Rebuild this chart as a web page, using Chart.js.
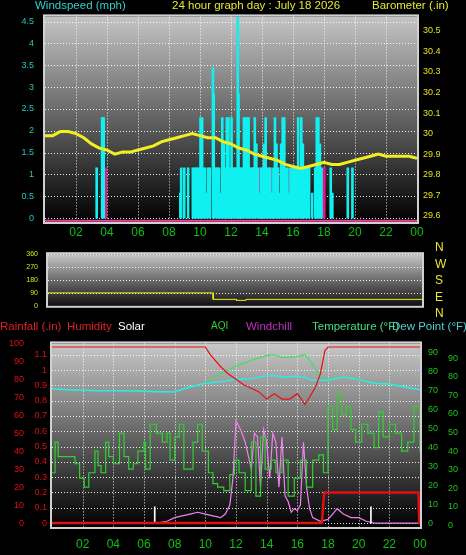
<!DOCTYPE html>
<html><head><meta charset="utf-8">
<script src="https://cdn.jsdelivr.net/npm/chart.js@4/dist/chart.umd.min.js"></script>
<style>
body{margin:0;background:#000;width:466px;height:555px;overflow:hidden;position:relative;font-family:"Liberation Sans",Arial,sans-serif}
canvas{position:absolute;left:0}
.t{position:absolute;font-size:11.5px;white-space:nowrap;line-height:12px}
</style></head><body>
<canvas id="c1" style="top:0px" width="466" height="240"></canvas>
<canvas id="c2" style="top:240px" width="466" height="80"></canvas>
<canvas id="c3" style="top:330px" width="466" height="225"></canvas>
<div class="t" style="left:35px;top:-1px;color:#30d0d0">Windspeed (mph)</div>
<div class="t" style="left:172px;top:-1px;color:#e8e830">24 hour graph day : July 18 2026</div>
<div class="t" style="left:372px;top:-1px;color:#e8e830">Barometer (.in)</div>
<div class="t" style="left:435px;top:239px;color:#e8e830;font-size:12px;line-height:16.6px">N<br>W<br>S<br>E<br>N</div>
<div class="t" style="left:0px;top:320px;color:#e02020">Rainfall (.in)</div>
<div class="t" style="left:67px;top:320px;color:#e02020">Humidity</div>
<div class="t" style="left:118px;top:320px;color:#fff">Solar</div>
<div class="t" style="left:211px;top:320px;color:#30d030;font-size:10px">AQI</div>
<div class="t" style="left:246px;top:320px;color:#c030c0">Windchill</div>
<div class="t" style="left:312px;top:320px;color:#40e080">Temperature (°F)</div>
<div class="t" style="left:392px;top:320px;color:#50d0d0">Dew Point (°F)</div>
<script>
// ---- data ----
const hourTicks = [2,4,6,8,10,12,14,16,18,20,22,24];
const gustTimes = [3.4,3.75,3.85,8.8,8.85,9.05,9.3,9.6,9.7,9.8,9.9,10.0,10.1,10.2,10.3,10.4,10.5,10.6,10.7,10.9,10.95,11.1,11.2,11.3,11.4,11.5,11.6,11.7,11.8,11.9,12.0,12.1,12.2,12.3,12.4,12.5,12.55,12.6,12.7,12.8,12.9,13.0,13.1,13.2,13.3,13.4,13.5,13.6,13.7,13.8,13.9,14.0,14.1,14.2,14.3,14.4,14.5,14.6,14.7,14.8,14.9,15.0,15.1,15.2,15.3,15.4,15.5,15.6,15.7,15.8,15.9,16.0,16.1,16.2,16.3,16.4,16.5,16.6,16.7,16.8,16.9,17.0,17.1,17.3,17.5,17.6,17.7,17.8,17.9,18.5,18.6,19.6,19.9];
const gustValues = [1.15,2.3,2.3,0.57,1.15,1.15,1.15,1.15,1.15,1.15,1.15,1.15,2.3,2.3,1.15,1.15,0.57,1.15,1.15,3.45,2.85,1.15,1.15,1.15,0.57,2.3,1.7,1.15,2.3,2.3,1.15,2.3,1.15,1.15,1.15,4.6,2.85,1.15,1.15,1.15,2.3,2.3,2.3,2.3,1.15,1.15,1.15,2.3,1.7,1.15,0.57,1.15,1.15,1.7,2.3,1.15,1.15,1.15,0.57,1.15,2.3,1.7,1.15,0.57,1.7,2.3,2.3,1.15,1.15,0.57,1.15,1.15,1.15,1.15,1.15,2.3,1.15,2.3,1.7,1.15,1.15,1.15,1.15,0.57,1.15,2.3,2.3,1.7,1.15,1.15,0.57,1.15,1.15];
const avgTimes = [3.85,10.2,10.25,11.0,11.05,11.7,11.8,11.85,12.2,12.4,12.7,13.0,13.3,13.4,13.45,13.8,14.0,14.05,14.5,14.9,15.4,15.6,16.2,16.5,17.5,17.6,17.9,17.95];
const avgValues = [1.15,0.57,0.57,1.15,1.15,1.15,1.15,1.15,1.15,1.15,1.15,1.15,1.15,1.15,1.15,1.15,1.15,1.15,1.15,0.57,1.15,1.15,1.15,0.57,1.15,1.15,1.15,1.15];
const baroTimes = [0,0.5,1,1.5,2,2.5,3,3.5,4,4.5,5,5.5,6,6.5,7,7.5,8,8.5,9,9.5,10,10.5,11,11.5,12,12.5,13,13.5,14,14.5,15,15.5,16,16.5,17,17.5,18,18.5,19,19.5,20,20.5,21,21.5,22,22.5,23,23.5,24];
const baroValues = [29.99,29.99,30.01,30.01,30.0,29.98,29.95,29.93,29.92,29.9,29.91,29.91,29.92,29.93,29.94,29.96,29.97,29.98,29.99,30.0,29.99,29.98,29.98,29.96,29.95,29.93,29.92,29.9,29.89,29.88,29.87,29.85,29.84,29.83,29.84,29.85,29.86,29.85,29.85,29.86,29.87,29.88,29.89,29.9,29.89,29.89,29.89,29.89,29.88];
const dirTimes = [0,10.6,10.6,12.1,12.1,12.7,12.7,24];
const dirValues = [90,90,45,45,38,38,45,45];
const humTimes = [0,10,10.3,10.6,11,11.5,12,12.5,13,13.5,14,14.5,15,15.5,16,16.5,16.8,17.2,17.5,17.8,18,24];
const humValues = [98,98,94,91,87,83,80,77,75,73,69,72,69,69,72,66,70,76,83,96,98,98];
const tempTimes = [0,1,3,5,7,8,9,10,11,12,13,14,14.5,15,16,16.5,17,17.5,18,19,20,21,22,23,24];
const tempValues = [71,70.5,70,70,69.5,69.5,72,74,79,83,86,88.5,89,87.5,88,89,84,77,76,77.5,76,74,73.5,72,70.5];
const dewTimes = [0,1,3,5,7,8,9,10,11,12,13,14,14.5,15,16,16.5,17,17.5,18,19,20,21,22,23,24];
const dewValues = [71,70.5,70,70,69.5,69.5,72,74,74.7,76,76.5,77.8,78,77.3,77.7,77,75.5,75.5,75.5,77.3,76,74,73.5,72,70.5];
const rainTimes = [0,17.6,17.75,23.9,23.95,24];
const rainValues = [0,0,0.2,0.2,0,0];
const aqiTimes = [0,0.2,0.4,0.6,1.5,1.8,2.1,2.4,2.8,3.0,3.2,3.5,3.7,4.0,4.4,4.7,5.0,5.3,5.6,6.0,6.1,6.4,6.8,7.2,7.5,7.7,8.0,8.3,8.6,8.9,9.2,9.5,9.8,10.2,10.5,10.8,11.2,11.6,11.9,12.2,12.6,13.0,13.3,13.6,13.9,14.3,14.6,15.0,15.4,15.8,16.2,16.6,17.0,17.4,17.7,18.0,18.3,18.6,18.9,19.2,19.5,19.8,20.2,20.6,21.0,21.3,21.6,22.0,22.4,22.8,23.2,23.6,24];
const aqiValues = [28,45,37,37,33,25,20,28,40,32,28,45,37,33,50,37,30,33,40,45,30,55,50,45,50,35,48,55,30,30,45,55,40,28,22,20,18,27,35,28,18,45,15,48,30,35,28,35,15,25,35,20,35,38,28,65,52,72,60,65,52,45,55,50,42,62,48,55,50,40,45,65,40];
const chillTimes = [0,6.8,7.5,8,8.5,9,9.5,10,10.5,11,11.3,11.6,11.8,12,12.3,12.6,13,13.2,13.4,13.6,13.8,14,14.2,14.4,14.6,14.8,15,15.2,15.4,15.6,15.8,16,16.2,16.4,16.6,16.8,17,17.5,18,18.3,18.6,19,19.5,20,20.5,21,24];
const chillValues = [0,0,1,3,4,5,6,5,4,3,5,10,25,57,52,45,30,50,48,20,52,45,25,50,45,20,48,15,12,6,8,7,10,45,20,8,3,1,2,5,8,5,3,3,1,0,0];
const solarTimes = [6.7,20.8];
const solarValues = [9,9];

const pts = (t,v)=>t.map((x,i)=>({x:x,y:v[i]}));
const FONT = {family:'"Liberation Sans", Arial, sans-serif', size:9};
const hourCb = v => (hourTicks.includes(v) ? String(v%24).padStart(2,'0') : '');
const numCb = v => String(Math.round(v*100)/100);
function bgPlugin(top,bot,xId,yId,xGrid){return {id:'bg',
 beforeDatasetsDraw(ch){const a=ch.chartArea,c=ch.ctx;const g=c.createLinearGradient(0,a.top,0,a.bottom);g.addColorStop(0,top);g.addColorStop(1,bot);c.save();c.fillStyle=g;c.fillRect(a.left,a.top,a.right-a.left,a.bottom-a.top);
  c.strokeStyle='rgba(255,255,255,0.9)';c.lineWidth=1;c.setLineDash([1,2]);
  const ys=ch.scales[yId];ys.ticks.forEach(t=>{const p=Math.round(ys.getPixelForValue(t.value))+0.5;c.beginPath();c.moveTo(a.left,p);c.lineTo(a.right,p);c.stroke();});
  if(xGrid){const xs=ch.scales[xId];xs.ticks.forEach(t=>{if(t.value<=0||t.value>=24)return;const p=Math.round(xs.getPixelForValue(t.value))+0.5;c.beginPath();c.moveTo(p,a.top);c.lineTo(p,a.bottom);c.stroke();});}
  c.restore();},
 afterDraw(ch){const a=ch.chartArea,c=ch.ctx;c.save();c.strokeStyle='#d0d0d0';c.lineWidth=2;c.strokeRect(a.left-1,a.top-1,a.right-a.left+2,a.bottom-a.top+2);c.restore();}};}
const fixW = w => function(s){s.width=w;};
const fixH = h => function(s){s.height=h;};
const nogrid = {display:false,drawTicks:false,tickLength:0};
const noborder = {display:false};

// ---- top chart ----
new Chart(document.getElementById('c1'),{type:'bar',
 data:{datasets:[
  {type:'line',data:pts(baroTimes,baroValues),yAxisID:'baro',borderColor:'#f0f020',borderWidth:3,pointRadius:0,tension:0},
  {data:pts(gustTimes,gustValues),backgroundColor:'#10f0f0',barThickness:2,yAxisID:'y'},
  {data:pts(avgTimes,avgValues),backgroundColor:'#f0108a',barThickness:2,yAxisID:'y'},
  {type:'line',data:[{x:0,y:-0.06},{x:24,y:-0.06}],yAxisID:'y',borderColor:'#f040a0',borderWidth:2,pointRadius:0}
 ]},
 options:{animation:false,responsive:false,layout:{padding:{top:10}},plugins:{legend:{display:false},tooltip:{enabled:false}},
  scales:{
   x:{type:'linear',offset:false,min:0,max:24,afterFit:fixH(18),ticks:{stepSize:2,autoSkip:false,maxRotation:0,callback:hourCb,color:'#10c010',font:{size:12},padding:3},grid:nogrid,border:noborder},
   y:{position:'left',min:-0.09,max:4.62,afterFit:fixW(45),afterBuildTicks(s){s.ticks=[0,0.5,1,1.5,2,2.5,3,3.5,4,4.5].map(v=>({value:v}));},ticks:{color:'#20c8c8',font:FONT,padding:11,callback:numCb},grid:nogrid,border:noborder},
   baro:{position:'right',min:29.57,max:30.57,afterFit:fixW(49),afterBuildTicks(s){s.ticks=[29.6,29.7,29.8,29.9,30,30.1,30.2,30.3,30.4,30.5].map(v=>({value:v}));},ticks:{color:'#e0e020',font:FONT,padding:6,callback:numCb},grid:nogrid,border:noborder}
  }},
 plugins:[bgPlugin('#c4c4c4','#000','x','y',true)]});

// ---- middle chart ----
new Chart(document.getElementById('c2'),{type:'line',
 data:{datasets:[{data:pts(dirTimes,dirValues),borderColor:'#f0f020',borderWidth:1,pointRadius:0,tension:0}]},
 options:{animation:false,responsive:false,layout:{padding:{top:6}},plugins:{legend:{display:false},tooltip:{enabled:false}},
  scales:{
   x:{type:'linear',offset:false,min:0,max:24,afterFit:fixH(7),ticks:{display:false},grid:nogrid,border:noborder},
   y:{min:0,max:360,afterFit:fixW(48),afterBuildTicks(s){s.ticks=[0,90,180,270,360].map(v=>({value:v}));},ticks:{color:'#e0e020',font:{size:7},padding:10},grid:nogrid,border:noborder},
   r:{position:'right',afterFit:fixW(44),ticks:{display:false},grid:nogrid,border:noborder}
  }},
 plugins:[bgPlugin('#c8c8c8','#101010','x','y',false)]});

// ---- bottom chart ----
new Chart(document.getElementById('c3'),{type:'line',
 data:{datasets:[
  {data:pts(rainTimes,rainValues),yAxisID:'rain',borderColor:'#e01010',borderWidth:2.5,pointRadius:0},
  {data:pts(humTimes,humValues),yAxisID:'hum',borderColor:'#e81010',borderWidth:1.2,pointRadius:0},
  {type:'bar',data:pts(solarTimes,solarValues),yAxisID:'hum',backgroundColor:'#ffffff',barThickness:1},
  {data:pts(aqiTimes,aqiValues),yAxisID:'hum',borderColor:'#30d030',borderWidth:1.2,pointRadius:0,stepped:true},
  {data:pts(chillTimes,chillValues),yAxisID:'hum',borderColor:'#f080f0',borderWidth:1.2,pointRadius:0},
  {data:pts(dewTimes,dewValues),yAxisID:'temp',borderColor:'#30e8e8',borderWidth:1.5,pointRadius:0},
  {data:pts(tempTimes,tempValues),yAxisID:'temp',borderColor:'#40e060',borderWidth:1.2,pointRadius:0}
 ]},
 options:{animation:false,responsive:false,layout:{padding:{top:12}},plugins:{legend:{display:false},tooltip:{enabled:false}},
  scales:{
   x:{type:'linear',offset:false,min:0,max:24,afterFit:fixH(28),ticks:{stepSize:2,autoSkip:false,maxRotation:0,callback:hourCb,color:'#10c010',font:{size:12},padding:10},grid:nogrid,border:noborder},
   rain:{position:'left',min:-0.026,max:1.175,afterFit:fixW(24),afterBuildTicks(s){s.ticks=[0,0.1,0.2,0.3,0.4,0.5,0.6,0.7,0.8,0.9,1,1.1].map(v=>({value:v}));},ticks:{color:'#e01010',font:FONT,padding:5,callback:numCb},grid:nogrid,border:noborder},
   hum:{position:'left',min:-2.2,max:100,afterFit:fixW(28),afterBuildTicks(s){s.ticks=[0,10,20,30,40,50,60,70,80,90,100].map(v=>({value:v}));},ticks:{color:'#e01010',font:FONT,padding:4},grid:nogrid,border:noborder},
   temp:{position:'right',min:-2,max:95,afterFit:fixW(24),afterBuildTicks(s){s.ticks=[0,10,20,30,40,50,60,70,80,90].map(v=>({value:v}));},ticks:{color:'#20c020',font:FONT,padding:8},grid:nogrid,border:noborder},
   dew:{position:'right',min:-0.9,max:98,afterFit:fixW(22),afterBuildTicks(s){s.ticks=[0,10,20,30,40,50,60,70,80,90].map(v=>({value:v}));},ticks:{color:'#20c020',font:FONT,padding:4},grid:nogrid,border:noborder}
  }},
 plugins:[bgPlugin('#c8c8c8','#000','x','rain',true)]});
</script></body></html>
